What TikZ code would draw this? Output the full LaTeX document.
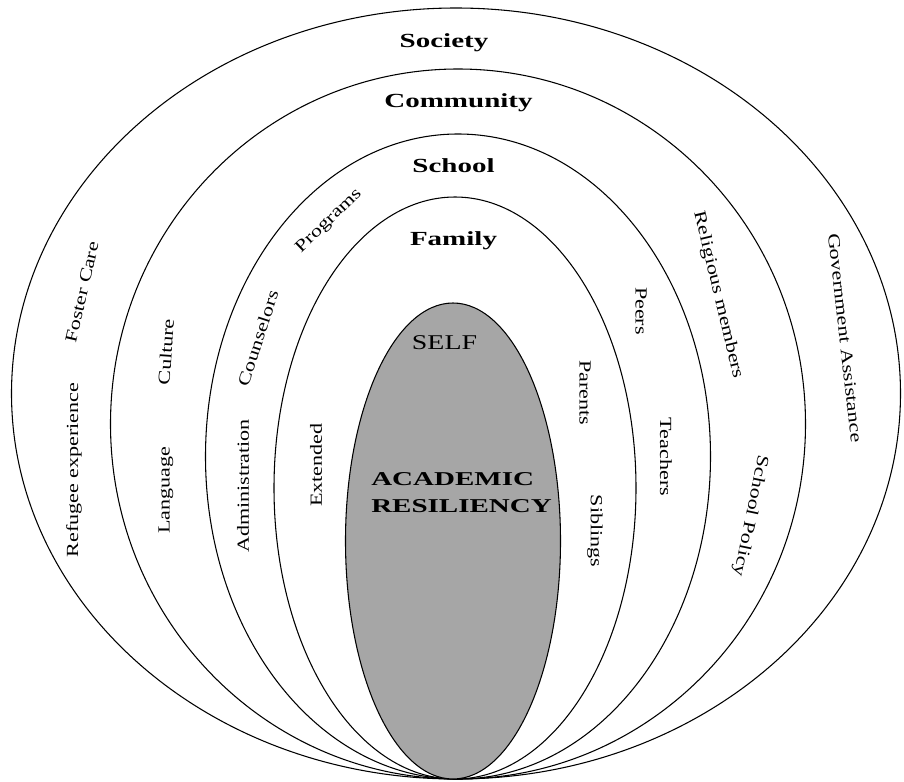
\documentclass[tikz,border=0pt]{standalone}
\usepackage{graphicx}
\usepackage{fontspec}
\setmainfont{Liberation Serif}
\newcommand{\rsitem}[1]{\scalebox{1.3}[1]{#1}}
\newcommand{\rslevel}[1]{\scalebox{1.45}[1]{#1}}
\tikzset{
  ring/.style={draw=black, line width=0.8pt},
  selfring/.style={draw=black, line width=0.8pt, fill=selfgray},
  lvl/.style={font=\bfseries\fontsize{15}{18}\selectfont, inner sep=0pt, anchor=base},
  item/.style={font=\fontsize{12.75}{15}\selectfont, inner sep=0pt, anchor=center},
  core/.style={font=\bfseries\fontsize{14.7}{18}\selectfont, inner sep=0pt, anchor=base west},
  selflbl/.style={font=\fontsize{15.75}{18}\selectfont, inner sep=0pt, anchor=base},
}
\definecolor{selfgray}{HTML}{A6A6A6}
\begin{document}
\begin{tikzpicture}[x=0.75pt, y=-0.75pt]
\useasboundingbox (0,0) rectangle (904,782);
\fill[white] (0,0) rectangle (904,782);
% nested ellipses
\draw[ring] (456,393.5) ellipse [x radius=444.5, y radius=385.5];
\draw[ring] (458,424) ellipse [x radius=347.5, y radius=355];
\draw[ring] (458,456.5) ellipse [x radius=252.5, y radius=322.5];
\draw[ring] (455,488) ellipse [x radius=181, y radius=291];
\draw[selfring] (453,541) ellipse [x radius=107.5, y radius=238];
% level labels
\node[lvl] (society) at (444,47) {\rslevel{Society}};
\node[lvl] (community) at (458.5,107) {\rslevel{Community}};
\node[lvl] (school) at (453.5,172) {\rslevel{School}};
\node[lvl] (family) at (453.5,245) {\rslevel{Family}};
\node[selflbl] (self) at (444.5,349) {\scalebox{1.33}[1]{SELF}};
\node[core] (acad) at (371,485) {\scalebox{1.48}[1]{ACADEMIC}};
\node[core] (resil) at (371,512) {\scalebox{1.48}[1]{RESILIENCY}};
% left items
\node[item, rotate=90] (refugee) at (74,470) {\rsitem{Refugee experience}};
\node[item, rotate=77] (foster) at (82,292) {\rsitem{Foster Care}};
\node[item, rotate=90] (language) at (166,490) {\rsitem{Language}};
\node[item, rotate=86] (culture) at (166,352) {\rsitem{Culture}};
\node[item, rotate=90] (admin) at (243,486) {\rsitem{Administration}};
\node[item, rotate=72] (counsel) at (258,338) {\rsitem{Counselors}};
\node[item, rotate=44] (programs) at (329,221) {\rsitem{Programs}};
\node[item, rotate=90] (extended) at (316,465) {\rsitem{Extended}};
% right items
\node[item, rotate=-90] (peers) at (641,311) {\rsitem{Peers}};
\node[item, rotate=-90] (parents) at (585,393) {\rsitem{Parents}};
\node[item, rotate=-90] (teachers) at (666,457) {\rsitem{Teachers}};
\node[item, rotate=-90] (siblings) at (595,531) {\rsitem{Siblings}};
\node[item, rotate=-76.6] (religious) at (718,295) {\rsitem{Religious members}};
\node[item, rotate=-101.6] (policy) at (750,516) {\rsitem{School Policy}};
\node[item, rotate=-83.6] (govt) at (845,338) {\rsitem{Government Assistance}};
\end{tikzpicture}
\end{document}
